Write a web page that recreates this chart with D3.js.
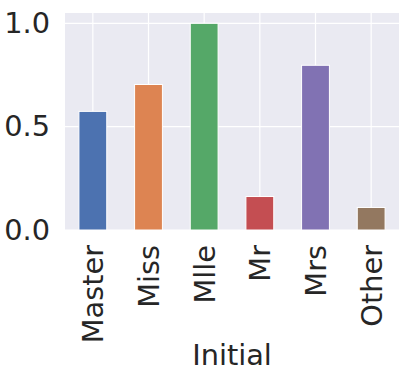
<!DOCTYPE html>
<html>
<head>
<meta charset="utf-8">
<script src="https://cdn.jsdelivr.net/npm/d3@7"></script>
<style>
  body { margin: 0; background: #fff; }
  text { font-family: "DejaVu Sans", sans-serif; fill: #262626; }
</style>
</head>
<body>
<div id="chart"></div>
<script>
// data
const categories = ["Master", "Miss", "Mlle", "Mr", "Mrs", "Other"];
const values = [0.574, 0.704, 1.0, 0.162, 0.797, 0.109];
const yTicks = [0.0, 0.5, 1.0];
const colors = ["#4c72b0", "#dd8452", "#55a868", "#c44e52", "#8172b3", "#937860"];
const xLabel = "Initial";

// dimensions
const width = 412;
const height = 377;
const margin = { top: 13, right: 13, bottom: 147, left: 65 };
const fontSize = 28.8;

const svg = d3.select("#chart")
  .append("svg")
  .attr("width", width)
  .attr("height", height);

// scales
const yScale = d3.scaleLinear()
  .domain([0, 1.05])
  .range([height - margin.bottom, margin.top]);

const xScale = d3.scaleBand()
  .domain(categories)
  .range([margin.left, width - margin.right])
  .paddingInner(0.5)
  .paddingOuter(0.25);

// background
svg.append("rect")
  .attr("x", margin.left)
  .attr("y", margin.top)
  .attr("width", width - margin.left - margin.right)
  .attr("height", height - margin.top - margin.bottom)
  .attr("fill", "#eaeaf2");

// grid lines
svg.selectAll(".hgrid")
  .data(yTicks)
  .enter()
  .append("line")
  .attr("x1", margin.left)
  .attr("x2", width - margin.right)
  .attr("y1", d => yScale(d))
  .attr("y2", d => yScale(d))
  .attr("stroke", "#fff")
  .attr("stroke-width", 1.2);

svg.selectAll(".vgrid")
  .data(categories)
  .enter()
  .append("line")
  .attr("x1", d => xScale(d) + xScale.bandwidth() / 2)
  .attr("x2", d => xScale(d) + xScale.bandwidth() / 2)
  .attr("y1", margin.top)
  .attr("y2", height - margin.bottom)
  .attr("stroke", "#fff")
  .attr("stroke-width", 1.2);

// bars
svg.selectAll(".bar")
  .data(values)
  .enter()
  .append("rect")
  .attr("class", "bar")
  .attr("x", (d, i) => xScale(categories[i]))
  .attr("y", d => yScale(d))
  .attr("width", xScale.bandwidth())
  .attr("height", d => yScale(0) - yScale(d))
  .attr("fill", (d, i) => colors[i])
  .attr("stroke", "#fff")
  .attr("stroke-width", 1);

// y axis
const yAxis = d3.axisLeft(yScale)
  .tickValues(yTicks)
  .tickFormat(d3.format(".1f"))
  .tickSize(0)
  .tickPadding(15);
const yG = svg.append("g")
  .attr("transform", `translate(${margin.left},0)`)
  .call(yAxis);
yG.select(".domain").remove();
yG.selectAll("text")
  .attr("font-size", fontSize)
  .attr("font-family", "DejaVu Sans")
  .attr("fill", "#262626");

// x axis
const xAxis = d3.axisBottom(xScale).tickSize(0).tickPadding(0);
const xG = svg.append("g")
  .attr("transform", `translate(0,${height - margin.bottom})`)
  .call(xAxis);
xG.select(".domain").remove();
xG.selectAll("text")
  .attr("font-size", fontSize)
  .attr("font-family", "DejaVu Sans")
  .attr("fill", "#262626")
  .attr("text-anchor", "end")
  .attr("transform", "rotate(-90)")
  .attr("x", -15)
  .attr("y", 0)
  .attr("dy", "0.36em");

// x label
svg.append("text")
  .attr("x", (margin.left + width - margin.right) / 2)
  .attr("y", 365)
  .attr("text-anchor", "middle")
  .attr("font-size", fontSize)
  .text(xLabel);
</script>
</body>
</html>
